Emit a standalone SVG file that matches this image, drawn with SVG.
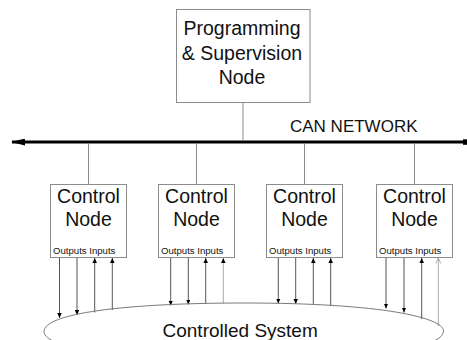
<svg xmlns="http://www.w3.org/2000/svg" width="467" height="340" viewBox="0 0 467 340">
<style>
.box{fill:#fff;stroke:#8c8c8c;stroke-width:1}
.t{font-family:"Liberation Sans",Arial,sans-serif;fill:#111}
.big{font-size:19.5px;text-anchor:middle}
.small{font-size:9.6px}
.link{stroke:#8c8c8c;stroke-width:1;fill:none}
.io{stroke:#555;stroke-width:1;fill:none}
.iol{stroke:#aaa;stroke-width:1;fill:none}
.bus{stroke:#000;stroke-width:3;fill:none}
</style>
<defs>
<marker id="ah" markerUnits="userSpaceOnUse" markerWidth="5" markerHeight="4.5" viewBox="0 0 5 4.5" refX="5" refY="2.25" orient="auto">
<path d="M0,0 L5,2.25 L0,4.5 z" fill="#000"/>
</marker>
<marker id="ao" markerUnits="userSpaceOnUse" markerWidth="6" markerHeight="6" viewBox="0 0 6 6" refX="5.5" refY="3" orient="auto">
<path d="M0,0.5 L5.5,3 L0,5.5" fill="none" stroke="#999" stroke-width="0.8"/>
</marker>
<marker id="busL" markerUnits="userSpaceOnUse" markerWidth="14" markerHeight="7" viewBox="0 0 14 7" refX="1" refY="3.5" orient="auto">
<path d="M0,3.5 L14,0 L14,7 z" fill="#000"/>
</marker>
</defs>

<g id="connectors">
<line class="bus" x1="12" y1="142" x2="464" y2="142" marker-start="url(#busL)"/>
<rect x="463" y="139.3" width="4" height="5.5" fill="#000"/>
<line class="link" x1="243" y1="102.5" x2="243" y2="141"/>
<line class="link" x1="88.5" y1="143.5" x2="88.5" y2="184.5"/>
<line class="link" x1="196.5" y1="143.5" x2="196.5" y2="184.5"/>
<line class="link" x1="304.5" y1="143.5" x2="304.5" y2="184.5"/>
<line class="link" x1="414.5" y1="143.5" x2="414.5" y2="184.5"/>

<line class="io" x1="59.5" y1="257.5" x2="59.5" y2="318" marker-end="url(#ah)"/>
<line class="io" x1="77" y1="257.5" x2="77" y2="315" marker-end="url(#ah)"/>
<line class="io" x1="94.7" y1="312.5" x2="94.7" y2="258" marker-end="url(#ah)"/>
<line class="io" x1="112.3" y1="310" x2="112.3" y2="258" marker-end="url(#ah)"/>

<line class="io" x1="170.7" y1="257.5" x2="170.7" y2="305.5" marker-end="url(#ah)"/>
<line class="io" x1="188.3" y1="257.5" x2="188.3" y2="304.5" marker-end="url(#ah)"/>
<line class="io" x1="205.7" y1="303.8" x2="205.7" y2="258" marker-end="url(#ah)"/>
<line class="iol" x1="223.3" y1="303.3" x2="223.3" y2="258" marker-end="url(#ah)"/>

<line class="io" x1="278.3" y1="257.5" x2="278.3" y2="303.5" marker-end="url(#ah)"/>
<line class="io" x1="295.7" y1="257.5" x2="295.7" y2="304" marker-end="url(#ah)"/>
<line class="io" x1="313.3" y1="305" x2="313.3" y2="258" marker-end="url(#ah)"/>
<line class="io" x1="330.7" y1="306" x2="330.7" y2="258" marker-end="url(#ah)"/>

<line class="io" x1="386" y1="257.5" x2="386" y2="308.5" marker-end="url(#ah)"/>
<line class="io" x1="404" y1="257.5" x2="404" y2="312.5" marker-end="url(#ah)"/>
<line class="io" x1="421.7" y1="319" x2="421.7" y2="258" marker-end="url(#ah)"/>
<line class="iol" x1="438.3" y1="326" x2="438.3" y2="258" marker-end="url(#ao)"/>
</g>

<g id="programming-node">
<rect class="box" x="176.5" y="9.5" width="133.5" height="93"/>
<text class="t big" x="242" y="35">Programming</text>
<text class="t big" x="242" y="59.5">&amp; Supervision</text>
<text class="t big" x="242" y="84">Node</text>
</g>

<g id="can-network-label">
<text class="t" x="290" y="132" font-size="17">CAN NETWORK</text>
</g>

<g id="control-node-1">
<rect class="box" x="50.5" y="184.5" width="76" height="73"/>
<text class="t big" x="88.5" y="203.3">Control</text>
<text class="t big" x="88.5" y="226">Node</text>
<text class="t small" x="53" y="254.3">Outputs Inputs</text>
</g>
<g id="control-node-2">
<rect class="box" x="158.5" y="184.5" width="76" height="73"/>
<text class="t big" x="196.5" y="203.3">Control</text>
<text class="t big" x="196.5" y="226">Node</text>
<text class="t small" x="161" y="254.3">Outputs Inputs</text>
</g>
<g id="control-node-3">
<rect class="box" x="266.5" y="184.5" width="76" height="73"/>
<text class="t big" x="304.5" y="203.3">Control</text>
<text class="t big" x="304.5" y="226">Node</text>
<text class="t small" x="269" y="254.3">Outputs Inputs</text>
</g>
<g id="control-node-4">
<rect class="box" x="376.5" y="184.5" width="76" height="73"/>
<text class="t big" x="414.5" y="203.3">Control</text>
<text class="t big" x="414.5" y="226">Node</text>
<text class="t small" x="379" y="254.3">Outputs Inputs</text>
</g>

<g id="controlled-system">
<path d="M44,331.5 C44,313.5 124,303 244,303 C384,303 443.5,318 443.5,331 C443.5,349 364,359 244,359 C124,359 44,349 44,331.5 z" fill="none" stroke="#7a7a7a" stroke-width="1"/>
<text class="t" x="162.5" y="336.7" font-size="19">Controlled System</text>
</g>
</svg>
